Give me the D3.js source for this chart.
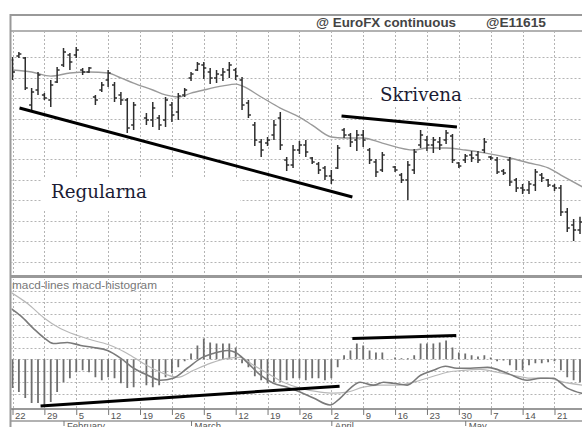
<!DOCTYPE html>
<html>
<head>
<meta charset="utf-8">
<script src="https://d3js.org/d3.v7.min.js"></script>
<style>
body { margin: 0; background: #fff; }
</style>
</head>
<body>
<script>
// trading day index: 0 = Mon Jan 22 ... 89 = Fri May 25 (no bar on Feb 19 and Good Friday)
var open = [
  .9385, .9405, .9395, .9166, .9239, .9215, .9190, .9278, .9361, .9410,
  .9410, .9337, .9327, .9205, .9239, .9288, .9263, .9215, .9190, .9068,
  null, .9102, .9093, .9102, .9093, .9166, .9132, .9215, .9298, .9337,
  .9361, .9327, .9298, .9312, .9337, .9337, .9288, .9176, .9068, .8985,
  .8980, .9020, .9102, .8898, .8873, .8946, .8971, .8907, .8878, .8859,
  .8820, .8859, .9044, .9020, .8995, .9020, .8946, .8888, .8849, null,
  .8863, .8824, .8800, .8849, .8971, .8995, .8971, .8985, .8995, .9015,
  .8883, .8898, .8922, .8922, .8946, .8912, .8898, .8844, .8898, .8800,
  .8761, .8751, .8776, .8824, .8800, .8771, .8761, .8644, .8580, .8556
];
var high = [
  .9400, .9424, .9400, .9249, .9327, .9224, .9288, .9351, .9444, .9420,
  .9449, .9346, .9351, .9215, .9278, .9337, .9278, .9229, .9200, .9180,
  null, .9127, .9180, .9117, .9205, .9180, .9224, .9249, .9327, .9376,
  .9376, .9346, .9337, .9346, .9376, .9346, .9302, .9190, .9083, .9000,
  .9010, .9093, .9132, .8912, .8971, .8990, .8995, .8912, .8888, .8868,
  .8849, .8971, .9054, .9029, .9044, .9044, .8956, .8902, .8937, null,
  .8868, .8834, .8893, .8951, .9044, .9015, .9010, .9010, .9044, .9024,
  .8888, .8927, .8941, .8941, .9005, .8917, .8912, .8854, .8912, .8810,
  .8780, .8795, .8854, .8834, .8805, .8780, .8776, .8663, .8610, .8620
];
var low = [
  .9288, .9395, .9239, .9141, .9215, .9190, .9156, .9273, .9351, .9337,
  .9395, .9312, .9322, .9166, .9229, .9254, .9180, .9166, .9029, .9044,
  null, .9068, .9059, .9044, .9059, .9083, .9093, .9205, .9283, .9332,
  .9293, .9268, .9273, .9283, .9298, .9288, .9141, .9102, .8966, .8912,
  .8966, .8995, .8946, .8844, .8859, .8927, .8912, .8878, .8829, .8800,
  .8780, .8854, .9005, .8961, .8941, .8961, .8878, .8815, .8839, null,
  .8839, .8785, .8702, .8829, .8956, .8941, .8932, .8946, .8976, .8883,
  .8859, .8883, .8888, .8883, .8932, .8898, .8829, .8824, .8771, .8741,
  .8732, .8732, .8746, .8790, .8766, .8746, .8624, .8546, .8502, .8537
];
var close = [
  .9327, .9415, .9249, .9229, .9312, .9200, .9263, .9337, .9424, .9376,
  .9434, .9327, .9346, .9190, .9263, .9322, .9200, .9190, .9054, .9166,
  null, .9093, .9151, .9068, .9190, .9117, .9210, .9239, .9317, .9366,
  .9346, .9298, .9317, .9327, .9361, .9307, .9166, .9117, .8995, .8946,
  .8995, .9068, .8971, .8873, .8946, .8971, .8937, .8888, .8849, .8820,
  .8800, .8956, .9020, .8985, .9020, .8995, .8898, .8839, .8922, null,
  .8849, .8800, .8873, .8937, .9020, .8971, .8995, .8971, .9029, .8898,
  .8868, .8917, .8907, .8898, .8985, .8907, .8839, .8834, .8790, .8761,
  .8751, .8780, .8839, .8810, .8776, .8761, .8644, .8566, .8556, .8595
];

// moving average [day, price]
var avgLine = [
  [0, .9337], [3, .9327], [6, .9307], [9, .9322], [12, .9327], [15, .9322], [17, .9298],
  [19, .9273], [22, .9239], [24, .9215], [26, .9205], [28, .9224], [30, .9239], [33, .9259],
  [35, .9268], [36, .9259], [39, .9205], [42, .9151], [45, .9107], [47, .9068], [50, .9010],
  [52, .9005], [55, .9005], [58, .8980], [63, .8946], [65, .8956], [68, .8956], [71, .8946],
  [74, .8932], [78, .8907], [81, .8883], [84, .8859], [86, .8824], [89.4, .8766]
];

// macd histogram per day
var hist = [
  -0.00252, -0.00287, -0.00339, -0.00383, -0.00383, -0.00400, -0.00374, -0.00287, -0.00200, -0.00165,
  -0.00113, -0.00096, -0.00113, -0.00157, -0.00183, -0.00157, -0.00165, -0.00209, -0.00252, -0.00244,
  null, -0.00226, -0.00244, -0.00226, -0.00157, -0.00122, -0.00070, -0.00017, 0.00052, 0.00122,
  0.00183, 0.00148, 0.00139, 0.00139, 0.00139, 0.00104, -0.00035, -0.00070, -0.00148, -0.00183,
  -0.00209, -0.00200, -0.00200, -0.00183, -0.00165, -0.00165, -0.00183, -0.00165, -0.00165, -0.00183,
  -0.00165, -0.00070, 0.00035, 0.00078, 0.00139, 0.00122, 0.00078, 0.00061, 0.00061, null,
  0.00017, 0.00009, 0.00009, 0.00035, 0.00139, 0.00139, 0.00139, 0.00148, 0.00165, 0.00104,
  0.00061, 0.00052, 0.00035, 0.00026, 0.00035, 0.00017, -0.00017, -0.00009, -0.00052, -0.00096,
  -0.00096, -0.00052, -0.00035, -0.00035, -0.00026, -0.00017, -0.00096, -0.00157, -0.00183, -0.00200
];

// macd and signal lines [day, value]
var macdLine = [
  [-0.2, 0.00445], [1.25, 0.00383], [3.3, 0.00270], [4.9, 0.00191], [6.4, 0.00139], [8.6, 0.00148],
  [10.7, 0.00122], [12.7, 0.00104], [14.9, 0.00078], [17, 0.00009], [19, -0.00078], [21.2, -0.00139],
  [23.2, -0.00183], [25.2, -0.00165], [27.4, -0.00078], [29.5, 0.00009], [31.5, 0.00052], [33.7, 0.00078],
  [35, 0.00061], [36.8, -0.00026], [38.9, -0.00139], [40.9, -0.00209], [43.1, -0.00244], [45.1, -0.00287],
  [47.2, -0.00339], [49.8, -0.00400], [51.4, -0.00339], [53, -0.00252], [54.5, -0.00200], [56.6, -0.00226],
  [58.2, -0.00200], [59.7, -0.00209], [61.9, -0.00226], [64, -0.00139], [66, -0.00096], [67.9, -0.00061],
  [69.7, -0.00078], [71.8, -0.00078], [74.5, -0.00070], [77.6, -0.00122], [80.7, -0.00183], [82.8, -0.00165],
  [84.8, -0.00165], [87, -0.00252], [89.4, -0.00300]
];
var signalLine = [
  [-0.2, 0.00585], [2.4, 0.00487], [4.9, 0.00365], [7.5, 0.00270], [10.2, 0.00209], [12.7, 0.00165],
  [15.4, 0.00122], [18, 0.00052], [20.5, -0.00035], [23.2, -0.00113], [25.9, -0.00157], [28.4, -0.00096],
  [31, -0.00035], [33.7, 0.00009], [35.7, 0.00017], [37.8, -0.00052], [40, -0.00122], [42.5, -0.00200],
  [45.1, -0.00252], [48.3, -0.00287], [50.3, -0.00296], [52.5, -0.00287], [55, -0.00244], [57.7, -0.00226],
  [60.3, -0.00226], [62.9, -0.00200], [65.5, -0.00157], [68.2, -0.00113], [70.7, -0.00096], [73.4, -0.00087],
  [76, -0.00113], [78.5, -0.00139], [81.2, -0.00165], [83.9, -0.00165], [86.4, -0.00200], [89.4, -0.00226]
];

// hand drawn divergence lines
var regLine = [[1.1, .9151], [53.3, .8717]];
var skrLine = [[51.6, .9112], [69.7, .9059]];
var macdLow = [[4.4, -0.00409], [51.3, -0.00235]];
var macdHigh = [[53.3, 0.00183], [69.6, 0.00209]];

var weekIdx = d3.range(0, 90, 5);
var weekLabels = ["22", "29", "5", "12", "19", "26", "5", "12", "19", "26", "2", "9", "16", "23", "30", "7", "14", "21"];
var monthIdx = [8, 28, 50, 71];
var monthLabels = ["February", "March", "April", "May"];
var priceGrid = d3.range(0.84, 0.945, 0.01);
var macdGrid = [-0.003, -0.002, -0.001, 0, 0.001, 0.002, 0.003, 0.004, 0.005, 0.006];

var width = 582;
var height = 427;

var svg = d3.select("body")
            .append("svg")
            .attr("width", width)
            .attr("height", height)
            .style("font-family", "'Liberation Sans', Arial, sans-serif");

var frameLeft = 10.5;
var headerY = 31;
var priceBottom = 276.5;
var macdTop = 278;
var macdBottom = 409;

var x = d3.scaleLinear().domain([0, 89]).range([12.5, 580]);
var y = d3.scaleLinear().domain([0.8329, 0.9527]).range([priceBottom, headerY]);
var ym = d3.scaleLinear().domain([-0.00435, 0.00713]).range([macdBottom, macdTop]);

svg.append("clipPath").attr("id", "clipPrice")
   .append("rect").attr("x", frameLeft + 1).attr("y", headerY + 1)
   .attr("width", width - frameLeft).attr("height", priceBottom - headerY - 2);
svg.append("clipPath").attr("id", "clipMacd")
   .append("rect").attr("x", frameLeft + 1).attr("y", macdTop + 1)
   .attr("width", width - frameLeft).attr("height", macdBottom - macdTop - 2);

var gridColor = "#b4b4b4";

// price panel grid
var gp = svg.append("g").attr("clip-path", "url(#clipPrice)");
gp.selectAll(".hg").data(priceGrid).enter().append("line")
  .attr("x1", frameLeft).attr("x2", width)
  .attr("y1", d => Math.round(y(d)) + 0.5).attr("y2", d => Math.round(y(d)) + 0.5)
  .attr("stroke", gridColor).attr("stroke-dasharray", "2,2");
gp.selectAll(".vg").data(weekIdx).enter().append("line")
  .attr("x1", d => Math.round(x(d)) + 0.5).attr("x2", d => Math.round(x(d)) + 0.5)
  .attr("y1", headerY).attr("y2", priceBottom)
  .attr("stroke", gridColor).attr("stroke-dasharray", "2,2");

// macd panel grid
var gm = svg.append("g").attr("clip-path", "url(#clipMacd)");
gm.selectAll(".hg").data(macdGrid).enter().append("line")
  .attr("x1", frameLeft).attr("x2", width)
  .attr("y1", d => Math.round(ym(d)) + 0.5).attr("y2", d => Math.round(ym(d)) + 0.5)
  .attr("stroke", gridColor).attr("stroke-dasharray", "2,2");
gm.selectAll(".vg").data(weekIdx).enter().append("line")
  .attr("x1", d => Math.round(x(d)) + 0.5).attr("x2", d => Math.round(x(d)) + 0.5)
  .attr("y1", macdTop).attr("y2", macdBottom)
  .attr("stroke", gridColor).attr("stroke-dasharray", "2,2");

// white boxes under the pasted labels
gp.append("rect").attr("x", 42).attr("y", 178).attr("width", 198).attr("height", 32).attr("fill", "#fff");
gp.append("rect").attr("x", 372).attr("y", 83).attr("width", 96).attr("height", 24).attr("fill", "#fff");

// moving average
gp.append("path")
  .datum(avgLine)
  .attr("d", d3.line().x(d => x(d[0])).y(d => y(d[1])).curve(d3.curveMonotoneX))
  .attr("fill", "none").attr("stroke", "#9a9a9a").attr("stroke-width", 1.4);

// ohlc bars
var days = d3.range(0, 90).filter(d => high[d] != null);
var bars = gp.selectAll(".bar").data(days).enter().append("g")
             .attr("stroke", "#2e2e2e").attr("stroke-width", 1.5);
bars.append("line")
    .attr("x1", d => x(d)).attr("x2", d => x(d))
    .attr("y1", d => y(high[d])).attr("y2", d => y(low[d]));
bars.append("line")
    .attr("x1", d => x(d) - 2.5).attr("x2", d => x(d))
    .attr("y1", d => y(open[d])).attr("y2", d => y(open[d]));
bars.append("line")
    .attr("x1", d => x(d)).attr("x2", d => x(d) + 2.5)
    .attr("y1", d => y(close[d])).attr("y2", d => y(close[d]));

// divergence lines, price panel
[regLine, skrLine].forEach(function(l) {
  gp.append("line")
    .attr("x1", x(l[0][0])).attr("y1", y(l[0][1]))
    .attr("x2", x(l[1][0])).attr("y2", y(l[1][1]))
    .attr("stroke", "#000").attr("stroke-width", 3);
});

gp.append("text").attr("x", 51).attr("y", 198)
  .attr("font-family", "'DejaVu Serif', serif").attr("font-size", "17.6px")
  .attr("fill", "#1c1c34").attr("textLength", 96).attr("lengthAdjust", "spacingAndGlyphs")
  .text("Regularna");
gp.append("text").attr("x", 380).attr("y", 101)
  .attr("font-family", "'DejaVu Serif', serif").attr("font-size", "17.6px")
  .attr("fill", "#1c1c34").attr("textLength", 82).attr("lengthAdjust", "spacingAndGlyphs")
  .text("Skrivena");

// macd histogram
var hdays = d3.range(0, 90).filter(d => hist[d] != null);
gm.selectAll(".hist").data(hdays).enter().append("line")
  .attr("x1", d => x(d)).attr("x2", d => x(d))
  .attr("y1", ym(0)).attr("y2", d => ym(hist[d]))
  .attr("stroke", "#6e6e6e").attr("stroke-width", 1.8);

var mline = d3.line().x(d => x(d[0])).y(d => ym(d[1])).curve(d3.curveMonotoneX);
gm.append("path").datum(signalLine).attr("d", mline)
  .attr("fill", "none").attr("stroke", "#b8b8b8").attr("stroke-width", 1.2);
gm.append("path").datum(macdLine).attr("d", mline)
  .attr("fill", "none").attr("stroke", "#7a7a7a").attr("stroke-width", 1.6);

[macdLow, macdHigh].forEach(function(l) {
  gm.append("line")
    .attr("x1", x(l[0][0])).attr("y1", ym(l[0][1]))
    .attr("x2", x(l[1][0])).attr("y2", ym(l[1][1]))
    .attr("stroke", "#000").attr("stroke-width", 3);
});

svg.append("text").attr("x", 12).attr("y", 289)
   .attr("font-size", "10.5px").attr("fill", "#777")
   .attr("textLength", 145).attr("lengthAdjust", "spacingAndGlyphs")
   .text("macd-lines macd-histogram");

// frame
var frame = svg.append("g").attr("stroke", "#999").attr("fill", "none");
frame.append("line").attr("x1", frameLeft).attr("x2", width).attr("y1", 15).attr("y2", 15).attr("stroke-width", 2);
frame.append("line").attr("x1", frameLeft).attr("x2", frameLeft).attr("y1", 14).attr("y2", height).attr("stroke-width", 2);
frame.append("line").attr("x1", frameLeft).attr("x2", width).attr("y1", headerY).attr("y2", headerY).attr("stroke-width", 1.5);
frame.append("line").attr("x1", frameLeft).attr("x2", width).attr("y1", priceBottom).attr("y2", priceBottom).attr("stroke-width", 3);
frame.append("line").attr("x1", frameLeft).attr("x2", width).attr("y1", macdBottom).attr("y2", macdBottom).attr("stroke-width", 2);
frame.append("line").attr("x1", frameLeft).attr("x2", width).attr("y1", 421).attr("y2", 421).attr("stroke-width", 1.5);

// header
svg.append("text").attr("x", 316).attr("y", 27)
   .attr("font-size", "12.5px").attr("font-weight", "bold").attr("fill", "#444")
   .attr("textLength", 140).attr("lengthAdjust", "spacingAndGlyphs")
   .text("@ EuroFX continuous");
svg.append("text").attr("x", 486).attr("y", 27)
   .attr("font-size", "12.5px").attr("font-weight", "bold").attr("fill", "#444")
   .attr("textLength", 60).attr("lengthAdjust", "spacingAndGlyphs")
   .text("@E11615");

// date axes
var weekAxis = d3.axisBottom(x).tickValues(weekIdx)
                 .tickFormat((d, i) => weekLabels[i]).tickSize(6);
var wa = svg.append("g").attr("transform", "translate(0," + macdBottom + ")").call(weekAxis);
wa.select(".domain").remove();
wa.selectAll("line").attr("stroke", "#777");
wa.selectAll("text").attr("x", 2).attr("y", 3).attr("text-anchor", "start")
  .attr("font-size", "9.5px").attr("fill", "#555").attr("font-family", "'Liberation Sans', Arial, sans-serif");

// month labels sit on the bottom edge, as in the source image
var monthAxis = d3.axisBottom(x).tickValues(monthIdx)
                  .tickFormat((d, i) => monthLabels[i]).tickSize(5);
var ma = svg.append("g").attr("transform", "translate(0,421)").call(monthAxis);
ma.select(".domain").remove();
ma.selectAll("line").attr("stroke", "#777");
ma.selectAll("text").attr("x", 3).attr("y", 1.5).attr("text-anchor", "start")
  .attr("font-size", "9.5px").attr("fill", "#555").attr("font-family", "'Liberation Sans', Arial, sans-serif");
</script>
</body>
</html>
